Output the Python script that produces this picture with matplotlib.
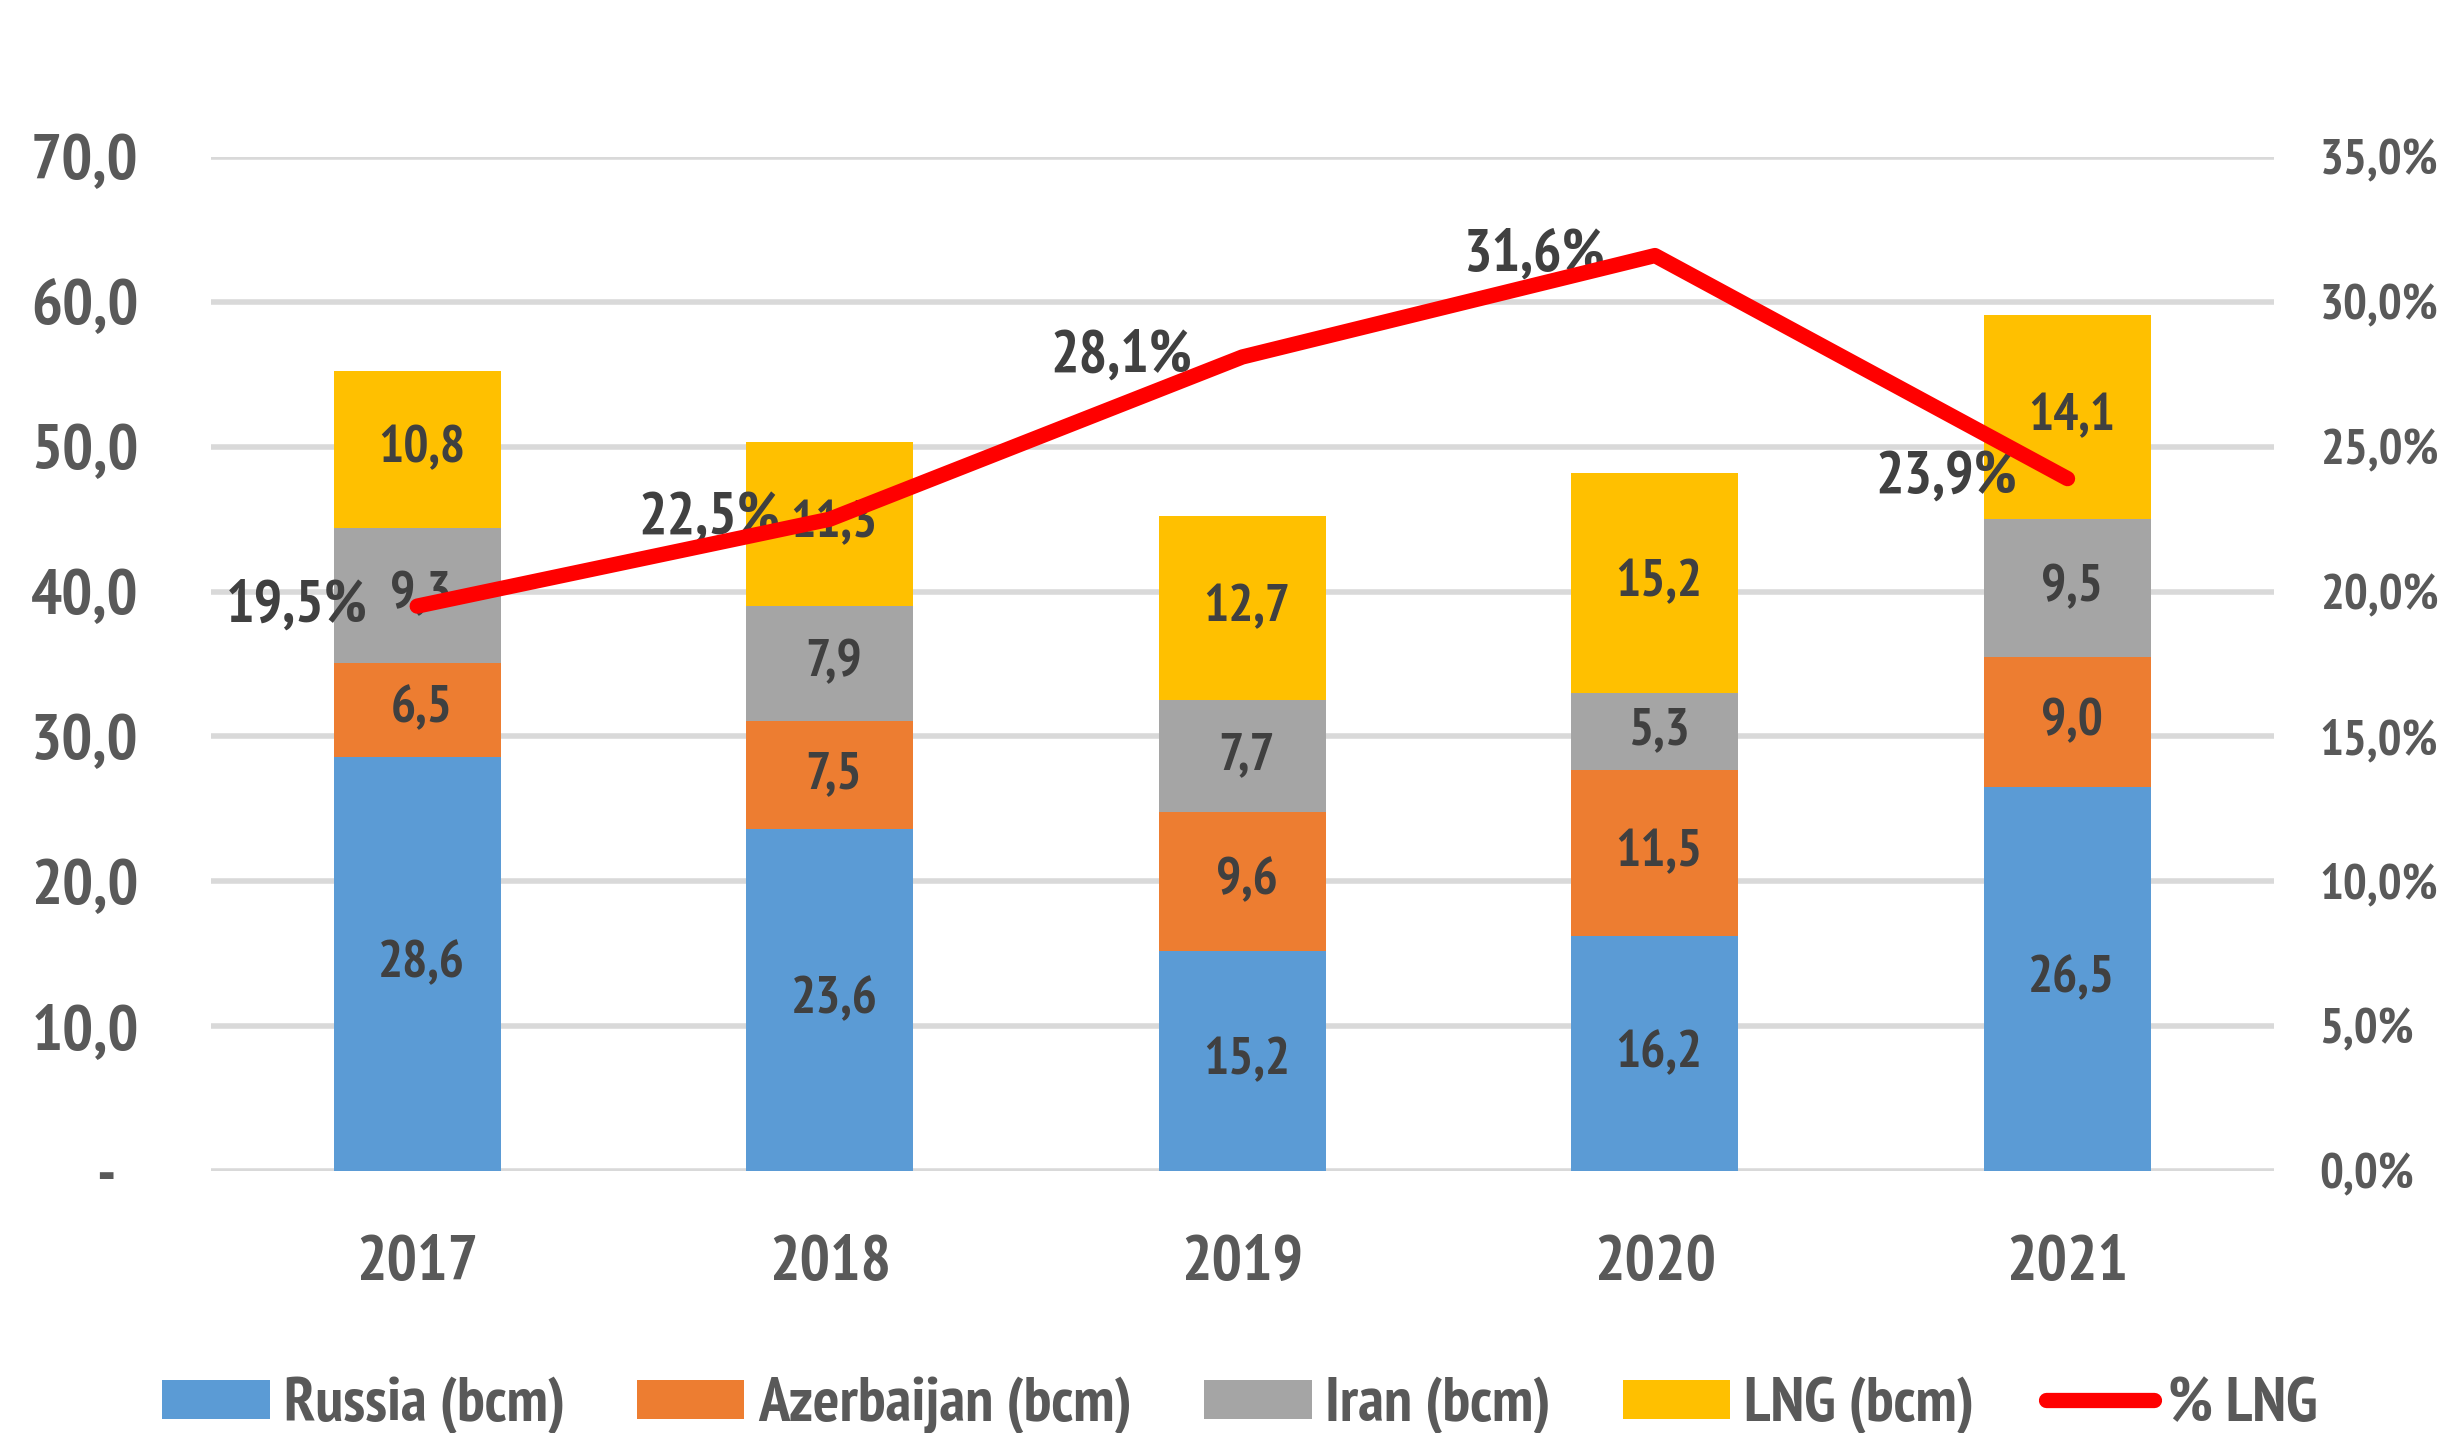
import numpy as np
import matplotlib.pyplot as plt
from matplotlib.ticker import FuncFormatter
from matplotlib.lines import Line2D
from matplotlib.patches import Patch

years = ["2017", "2018", "2019", "2020", "2021"]
russia = [28.6, 23.6, 15.2, 16.2, 26.5]
azerbaijan = [6.5, 7.5, 9.6, 11.5, 9.0]
iran = [9.3, 7.9, 7.7, 5.3, 9.5]
lng = [10.8, 11.3, 12.7, 15.2, 14.1]
pct_lng = [19.5, 22.5, 28.1, 31.6, 23.9]

series = [
    ("Russia (bcm)", russia, "#5B9BD5"),
    ("Azerbaijan (bcm)", azerbaijan, "#ED7D31"),
    ("Iran (bcm)", iran, "#A5A5A5"),
    ("LNG (bcm)", lng, "#FFC000"),
]

font = ["PT Sans Narrow", "DejaVu Sans"]
dark = "#404040"
grey = "#595959"


def comma(v, decimals=1):
    return f"{v:.{decimals}f}".replace(".", ",")


fig = plt.figure(figsize=(24.55, 14.33), dpi=100)
ax = fig.add_axes([0.0859, 0.1828, 0.8403, 0.7076])

x = np.arange(len(years))
bottom = np.zeros(len(years))
for name, vals, color in series:
    vals = np.array(vals)
    ax.bar(x, vals, width=0.405, bottom=bottom, color=color, zorder=2)
    for xi, b, v in zip(x, bottom, vals):
        ax.annotate(comma(v), (xi, b + v / 2), xytext=(3, 0), textcoords="offset points",
                    ha="center", va="center", fontsize=38, fontweight="bold",
                    family=font, color=dark, zorder=3)
    bottom += vals

ax.set_xlim(-0.5, len(years) - 0.5)
ax.set_ylim(0, 70)
ax.set_yticks(np.arange(0, 71, 10))
ax.yaxis.set_major_formatter(FuncFormatter(lambda v, p: "-  " if v == 0 else comma(v)))
ax.grid(axis="y", color="#D9D9D9", linewidth=4, zorder=0)
ax.set_axisbelow(True)
ax.set_xticks(x)
ax.set_xticklabels(years)
ax.tick_params(axis="x", length=0, pad=46)
ax.tick_params(axis="y", length=0, pad=52)
for lbl in ax.get_xticklabels():
    lbl.set(fontsize=46, fontweight="bold", family=font, color=grey)
for lbl in ax.get_yticklabels():
    lbl.set(fontsize=47, fontweight="bold", family=font, color=grey)
for s in ax.spines.values():
    s.set_visible(False)

ax2 = ax.twinx()
ax2.set_ylim(0, 35)
ax2.set_yticks(np.arange(0, 36, 5))
ax2.yaxis.set_major_formatter(FuncFormatter(lambda v, p: comma(v) + "%"))
ax2.tick_params(axis="y", length=0, pad=33)
for lbl in ax2.get_yticklabels():
    lbl.set(fontsize=36, fontweight="bold", family=font, color=grey)
for s in ax2.spines.values():
    s.set_visible(False)

ax2.plot(x, pct_lng, color="#FF0000", linewidth=11, solid_capstyle="round",
         solid_joinstyle="round", zorder=5)
for xi, v in zip(x, pct_lng):
    ax2.annotate(comma(v) + "%", (xi, v), xytext=(-36, 0), textcoords="offset points",
                 ha="right", va="center", fontsize=43, fontweight="bold",
                 family=font, color=dark, zorder=4)

handles = [Patch(facecolor=c, edgecolor="none") for _, _, c in series]
handles.append(Line2D([0], [0], color="#FF0000", linewidth=11, solid_capstyle="round"))
labels = [n for n, _, _ in series] + ["% LNG"]
fig.legend(handles, labels, loc="center", bbox_to_anchor=(0.505, 0.019), ncol=5,
           frameon=False, prop={"family": font, "size": 45, "weight": "bold"},
           labelcolor=grey, handlelength=1.72, handleheight=0.58,
           handletextpad=0.22, columnspacing=1.15)

fig.savefig("out.png", dpi=100)
